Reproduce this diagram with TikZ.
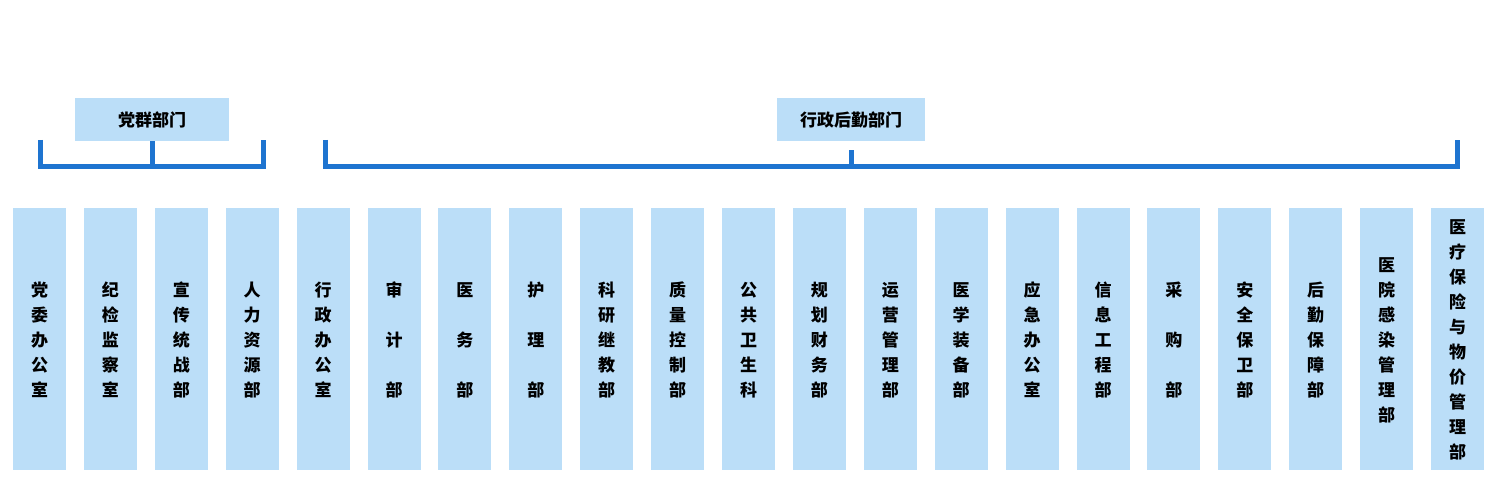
\documentclass[tikz,border=0pt]{standalone}
\usepackage{fontspec}
\newfontfamily\cjk{Noto Sans CJK SC}
\definecolor{boxc}{HTML}{BBDEF8}
\definecolor{linec}{HTML}{1E74D0}
\begin{document}
\begin{tikzpicture}[x=1pt,y=-1pt,
  col/.style={fill=boxc,draw=none,minimum width=53pt,minimum height=262pt,inner sep=0pt},
  hdr/.style={fill=boxc,draw=none,minimum height=43pt,inner sep=0pt,font=\cjk\bfseries\fontsize{17}{20}\selectfont},
  txt/.style={align=center,inner sep=0pt,font=\cjk\bfseries\fontsize{17}{25}\selectfont},
  br/.style={draw=linec,line width=5pt}]
\useasboundingbox (0,0) rectangle (1499,492);
\node[hdr,minimum width=154pt] (h1) at (152,119.5) {党群部门};
\node[hdr,minimum width=148pt] (h2) at (851,119.5) {行政后勤部门};
\foreach \i/\t in {0/{党\\委\\办\\公\\室},1/{纪\\检\\监\\察\\室},2/{宣\\传\\统\\战\\部},3/{人\\力\\资\\源\\部},
4/{行\\政\\办\\公\\室},5/{审\\[25pt]计\\[25pt]部},6/{医\\[25pt]务\\[25pt]部},7/{护\\[25pt]理\\[25pt]部},
8/{科\\研\\继\\教\\部},9/{质\\量\\控\\制\\部},10/{公\\共\\卫\\生\\科},11/{规\\划\\财\\务\\部},
12/{运\\营\\管\\理\\部},13/{医\\学\\装\\备\\部},14/{应\\急\\办\\公\\室},15/{信\\息\\工\\程\\部},
16/{采\\[25pt]购\\[25pt]部},17/{安\\全\\保\\卫\\部},18/{后\\勤\\保\\障\\部},19/{医\\院\\感\\染\\管\\理\\部},
20/{医\\疗\\保\\险\\与\\物\\价\\管\\理\\部}}{
  \node[col] (c\i) at ({39.5+70.9*\i},339) {};
  \node[txt] (t\i) at ({39.5+70.9*\i},340) {\t};
}
\coordinate (a1) at (40,166); \coordinate (a2) at (263,166);
\coordinate (b1) at (325,166); \coordinate (b2) at (1457,166);
\draw[br] (h1.south) -- (h1.south |- a1);
\draw[br] ([yshift=26pt]a1) -- (a1) -- (a2) -- ([yshift=26pt]a2);
\draw[br] ([yshift=-9pt]h2.south) -- (h2.south |- b1);
\draw[br] ([yshift=26pt]b1) -- (b1) -- (b2) -- ([yshift=26pt]b2);
\end{tikzpicture}
\end{document}
